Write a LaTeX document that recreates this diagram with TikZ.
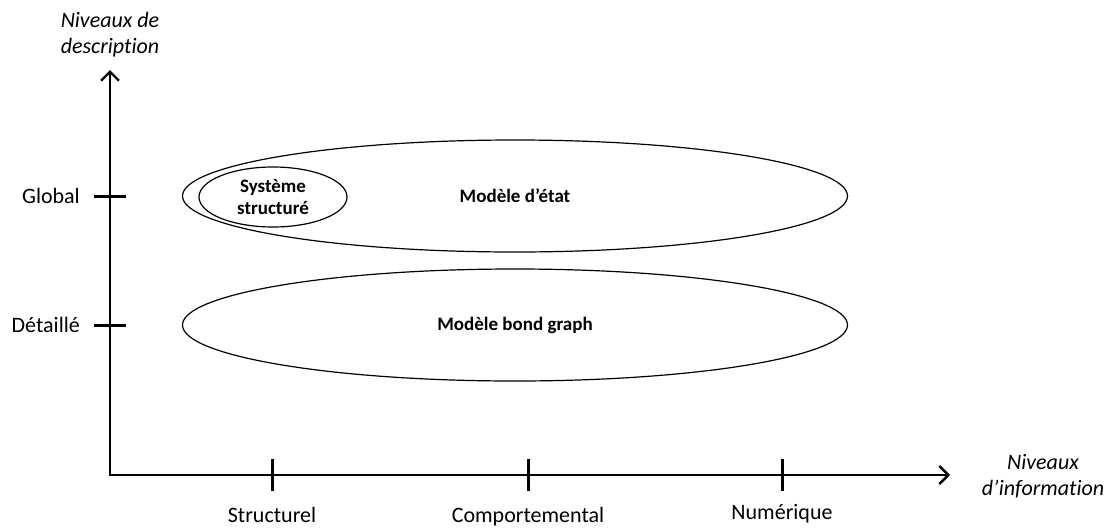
\documentclass[tikz,border=0pt]{standalone}
\usepackage{fontspec}
\setmainfont{Carlito}[Ligatures={TeX,NoCommon}]
\usetikzlibrary{arrows.meta, positioning, shapes.geometric}

\begin{document}
\begin{tikzpicture}[x=1pt, y=-1pt]
	% Define styles
	\tikzset{
		axis/.style={line width=2.8pt, {Straight Barb[length=9pt, width=18pt, line width=2.4pt]}-{Straight Barb[length=9pt, width=18pt, line width=2.4pt]}},
		tick/.style={line width=3pt},
		zone/.style={ellipse, draw, line width=1.2pt, inner sep=0pt, align=center, font=\fontsize{19}{22}\selectfont\bfseries},
		lbl/.style={inner sep=0pt, font=\fontsize{22}{26}\selectfont},
		ttl/.style={inner sep=0pt, align=center, font=\fontsize{22}{26}\selectfont\itshape}
	}
	\useasboundingbox (0,0) rectangle (1112,528);
	
	% Axes
	\coordinate (o) at (110,475);
	\coordinate (ytip) at (110,70);
	\coordinate (xtip) at (950,475);
	\draw[axis] (ytip) -- (o) -- (xtip);
	
	\node[ttl] (ylab) at (110,35) {Niveaux de\\description};
	\node[ttl] (xlab) at (1043,476) {Niveaux\\d’information};
	
	% Ticks
	\coordinate (glob) at (110,196);
	\coordinate (det) at (110,325);
	\coordinate (str) at (272,475);
	\coordinate (comp) at (528,475);
	\coordinate (num) at (782,475);
	
	\foreach \t in {glob, det}
		\draw[tick] ([xshift=-16pt]\t) -- ([xshift=16pt]\t);
	\foreach \t in {str, comp, num}
		\draw[tick] ([yshift=-16pt]\t) -- ([yshift=16pt]\t);
	
	\node[lbl, left=30pt of glob] (global) {Global};
	\node[lbl, left=30pt of det] (detaille) {Détaillé};
	\node[lbl, below=32pt of str] (structurel) {Structurel};
	\node[lbl, below=32pt of comp] (comportemental) {Comportemental};
	\node[lbl, below=29pt of num] (numerique) {Numérique};
	
	% Zones
	\node[zone, minimum width=665pt, minimum height=112pt] (etat) at (515,196) {Modèle d’état};
	\node[zone, minimum width=148pt, minimum height=60pt] (sys) at (273,197) {Système\\structuré};
	\node[zone, minimum width=665pt, minimum height=112pt] (bg) at (515,325) {Modèle bond graph};
	
\end{tikzpicture}
\end{document}
